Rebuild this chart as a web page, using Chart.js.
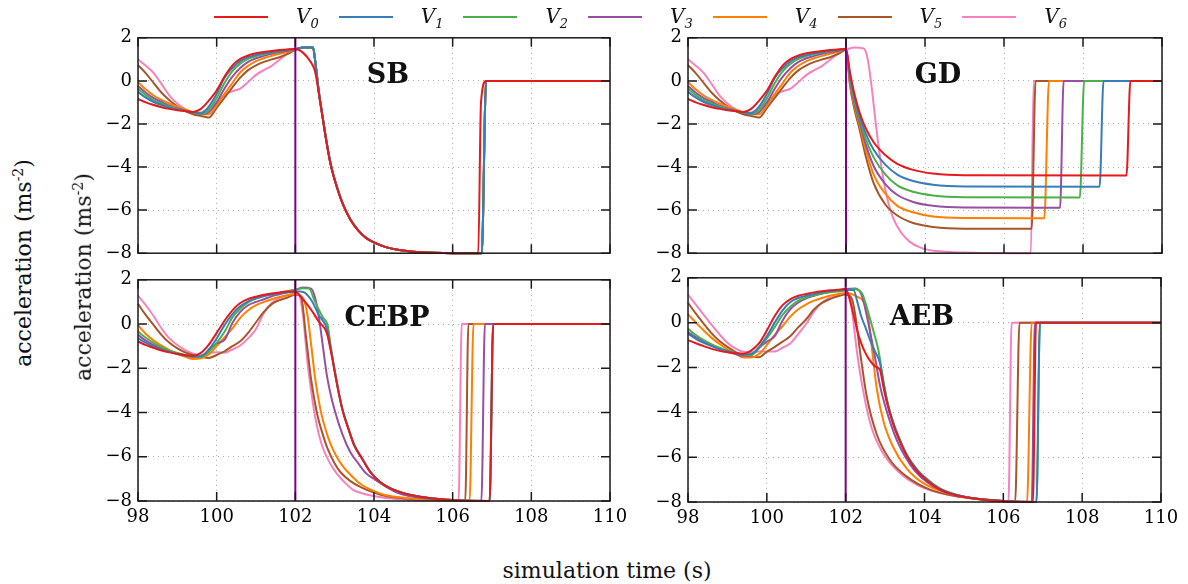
<!DOCTYPE html>
<html lang="en">
<head>
<meta charset="utf-8">
<title>acceleration vs simulation time</title>
<script src="https://cdn.jsdelivr.net/npm/chart.js@4.4.1/dist/chart.umd.min.js"></script>
<style>
  html, body { margin: 0; padding: 0; background: #fff; }
  #figura { position: relative; width: 1188px; height: 584px; overflow: hidden; font-family: 'DejaVu Serif', serif; color: #111; }
  #figura canvas { position: absolute; }
  .titulo { position: absolute; font-weight: bold; font-size: 27px; transform: translate(-50%, -50%); white-space: nowrap; }
  .ejeY { position: absolute; font-size: 22px; white-space: nowrap; transform: translate(-50%, -50%) rotate(-90deg); }
  .ejeY sup { font-size: 14px; }
  .ejeX { position: absolute; font-size: 22px; white-space: nowrap; transform: translate(-50%, -50%); }
  .leyLinea { position: absolute; height: 2px; width: 54px; top: 16px; }
  .leyTexto { position: absolute; top: 17px; transform: translateY(-50%); font-size: 20px; font-style: italic; white-space: nowrap; }
  .leyTexto sub { font-size: 13px; }
</style>
</head>
<body>
<div id="figura">
  <canvas id="panelSB"></canvas>
  <canvas id="panelGD"></canvas>
  <canvas id="panelCEBP"></canvas>
  <canvas id="panelAEB"></canvas>
  <div class="titulo" style="left:388px; top:73px;">SB</div>
  <div class="titulo" style="left:938px; top:73px;">GD</div>
  <div class="titulo" style="left:387px; top:316px;">CEBP</div>
  <div class="titulo" style="left:922px; top:315px;">AEB</div>
  <div class="ejeY" style="left:23px; top:263px;">acceleration (ms<sup>-2</sup>)</div>
  <div class="ejeY" style="left:83px; top:277px;">acceleration (ms<sup>-2</sup>)</div>
  <div class="ejeX" style="left:607px; top:570px;">simulation time (s)</div>
</div>
<script>
// series y colores
const nombres = ['0', '1', '2', '3', '4', '5', '6'];
const colores = ['#e41a1c', '#377eb8', '#4daf4a', '#984ea3', '#ff7f00', '#a65628', '#f781bf'];
const colorEvento = '#7f007f';
const tiempoEvento = 102;

const ticksX = [98, 100, 102, 104, 106, 108, 110];
const ticksY = [-8, -6, -4, -2, 0, 2];

// tramo previo al evento (98 a 102 s)
const tPre = [98.0, 98.2, 98.4, 98.6, 98.8, 99.0, 99.2, 99.4, 99.6, 99.8, 100.0, 100.2, 100.4, 100.6, 100.8, 101.0, 101.2, 101.4, 101.6, 101.8, 102.0];

const preArriba = [
  [-0.84, -1.0, -1.12, -1.22, -1.3, -1.36, -1.4, -1.44, -1.3, -0.92, -0.45, 0.2, 0.72, 1.02, 1.18, 1.28, 1.34, 1.39, 1.43, 1.46, 1.48],
  [-0.51, -0.78, -0.98, -1.12, -1.24, -1.33, -1.4, -1.46, -1.5, -1.2, -0.6, 0.15, 0.6, 0.92, 1.1, 1.2, 1.28, 1.34, 1.4, 1.44, 1.48],
  [-0.36, -0.66, -0.9, -1.05, -1.2, -1.3, -1.4, -1.47, -1.53, -1.35, -0.8, -0.1, 0.45, 0.8, 1.02, 1.15, 1.24, 1.32, 1.38, 1.43, 1.47],
  [-0.24, -0.55, -0.8, -0.98, -1.15, -1.28, -1.38, -1.47, -1.55, -1.45, -1.0, -0.35, 0.2, 0.6, 0.88, 1.05, 1.16, 1.26, 1.34, 1.4, 1.46],
  [-0.06, -0.4, -0.68, -0.88, -1.05, -1.2, -1.33, -1.45, -1.55, -1.55, -1.15, -0.6, -0.1, 0.4, 0.7, 0.92, 1.05, 1.16, 1.26, 1.35, 1.44],
  [0.73, 0.35, -0.1, -0.55, -0.9, -1.18, -1.4, -1.55, -1.63, -1.7, -1.25, -0.78, -0.3, 0.15, 0.5, 0.72, 0.88, 1.0, 1.1, 1.25, 1.44],
  [1.0, 0.7, 0.36, -0.15, -0.68, -1.05, -1.32, -1.48, -1.47, -1.28, -1.02, -0.65, -0.48, -0.36, -0.05, 0.28, 0.5, 0.7, 0.98, 1.25, 1.44]
];

const preCEBP = [
  [-0.79, -0.95, -1.08, -1.2, -1.28, -1.35, -1.4, -1.44, -1.3, -0.93, -0.4, 0.15, 0.62, 0.95, 1.13, 1.24, 1.32, 1.38, 1.43, 1.47, 1.46],
  [-0.64, -0.85, -1.02, -1.15, -1.26, -1.35, -1.42, -1.47, -1.45, -1.15, -0.65, -0.05, 0.45, 0.8, 1.02, 1.17, 1.27, 1.34, 1.39, 1.43, 1.48],
  [-0.34, -0.62, -0.86, -1.05, -1.2, -1.31, -1.4, -1.47, -1.5, -1.25, -0.85, -0.35, 0.3, 0.7, 0.98, 1.15, 1.27, 1.35, 1.42, 1.48, 1.55],
  [-0.49, -0.75, -0.95, -1.1, -1.23, -1.33, -1.42, -1.48, -1.48, -1.2, -0.88, -0.72, 0.05, 0.55, 0.85, 1.0, 1.12, 1.25, 1.35, 1.45, 1.55],
  [-0.05, -0.45, -0.75, -0.98, -1.18, -1.35, -1.48, -1.58, -1.55, -1.38, -1.0, -0.6, -0.2, 0.28, 0.62, 0.85, 1.0, 1.12, 1.22, 1.3, 1.36],
  [0.91, 0.4, -0.05, -0.5, -0.85, -1.1, -1.28, -1.4, -1.48, -1.53, -1.4, -1.23, -1.0, -0.78, -0.4, 0.08, 0.55, 0.9, 1.08, 1.2, 1.33],
  [1.28, 0.85, 0.35, -0.2, -0.65, -0.95, -1.18, -1.34, -1.38, -1.3, -1.28, -1.3, -1.15, -0.97, -0.65, -0.22, 0.5, 0.95, 1.18, 1.3, 1.39]
];

const preAEB = [
  [-0.78, -0.92, -1.05, -1.17, -1.26, -1.32, -1.36, -1.39, -1.25, -0.93, -0.35, 0.3, 0.78, 1.05, 1.2, 1.28, 1.35, 1.4, 1.44, 1.47, 1.5],
  [-0.49, -0.72, -0.9, -1.05, -1.18, -1.28, -1.36, -1.42, -1.4, -1.1, -0.6, 0.0, 0.55, 0.92, 1.1, 1.2, 1.28, 1.35, 1.4, 1.44, 1.47],
  [-0.28, -0.55, -0.78, -0.97, -1.12, -1.25, -1.35, -1.42, -1.45, -1.15, -0.7, -0.2, 0.35, 0.72, 0.98, 1.12, 1.22, 1.3, 1.35, 1.39, 1.43],
  [-0.42, -0.65, -0.85, -1.02, -1.17, -1.3, -1.4, -1.48, -1.45, -1.12, -0.85, -0.6, 0.1, 0.6, 0.9, 1.08, 1.2, 1.3, 1.38, 1.44, 1.5],
  [0.38, 0.0, -0.35, -0.68, -0.95, -1.18, -1.38, -1.55, -1.55, -1.4, -1.0, -0.55, -0.15, 0.28, 0.6, 0.82, 0.98, 1.1, 1.2, 1.27, 1.32],
  [0.88, 0.4, -0.05, -0.48, -0.82, -1.08, -1.3, -1.45, -1.52, -1.54, -1.3, -1.08, -0.85, -0.6, -0.2, 0.15, 0.6, 0.88, 1.05, 1.17, 1.25],
  [1.25, 0.8, 0.35, -0.1, -0.52, -0.9, -1.15, -1.3, -1.32, -1.29, -1.29, -1.29, -1.12, -0.92, -0.5, -0.05, 0.5, 0.9, 1.1, 1.2, 1.3]
];

// tramo posterior al evento: SB
const sbRojoT = [102.2, 102.4, 102.5, 102.6, 102.7, 102.8, 102.9, 103.0, 103.2, 103.4, 103.6, 103.8, 104.0, 104.3, 104.6, 105.0, 105.5, 106.0, 106.65, 106.72, 106.85, 110];
const sbRojoA = [1.3, 0.85, 0.45, -0.6, -1.8, -2.94, -3.9, -4.6, -5.7, -6.45, -6.95, -7.3, -7.5, -7.72, -7.84, -7.93, -7.98, -8, -8, -1.0, 0, 0];
const sbRestoT = [102.2, 102.45, 102.5, 102.6, 102.7, 102.8, 102.9, 103.0, 103.2, 103.4, 103.6, 103.8, 104.0, 104.3, 104.6, 105.0, 105.5, 106.0, 106.74, 106.85, 110];
const sbRestoA = [1.55, 1.55, 1.0, -0.55, -1.75, -2.9, -3.88, -4.58, -5.68, -6.43, -6.94, -7.29, -7.5, -7.72, -7.84, -7.93, -7.98, -8, -8, 0, 0];
const postSBT = [sbRojoT, sbRestoT, sbRestoT, sbRestoT, sbRestoT, sbRestoT, sbRestoT];
const postSBA = [sbRojoA, sbRestoA, sbRestoA, sbRestoA, sbRestoA, sbRestoA, sbRestoA];

// GD
const postGDT = [
  [102.1, 102.2, 102.35, 102.5, 102.7, 103.0, 103.3, 103.7, 104.2, 105.0, 109.1, 109.2, 110],
  [102.1, 102.2, 102.35, 102.5, 102.7, 103.0, 103.3, 103.7, 104.2, 105.0, 108.42, 108.52, 110],
  [102.1, 102.2, 102.35, 102.5, 102.7, 103.0, 103.3, 103.7, 104.2, 105.0, 107.92, 108.03, 110],
  [102.1, 102.2, 102.35, 102.5, 102.7, 103.0, 103.3, 103.7, 104.2, 105.0, 107.42, 107.51, 110],
  [102.1, 102.2, 102.35, 102.5, 102.7, 103.0, 103.3, 103.7, 104.2, 105.0, 107.02, 107.14, 110],
  [102.1, 102.2, 102.35, 102.5, 102.7, 103.0, 103.3, 103.7, 104.2, 105.0, 106.7, 106.8, 110],
  [102.2, 102.45, 102.55, 102.65, 102.75, 102.85, 102.95, 103.05, 103.2, 103.4, 103.6, 103.9, 104.3, 105.0, 106.68, 106.75, 110]
];
const postGDA = [
  [0.4, -0.5, -1.5, -2.2, -2.85, -3.45, -3.85, -4.13, -4.3, -4.38, -4.39, 0, 0],
  [0.25, -0.65, -1.65, -2.45, -3.2, -3.9, -4.35, -4.65, -4.82, -4.9, -4.91, 0, 0],
  [0.1, -0.8, -1.8, -2.7, -3.55, -4.35, -4.85, -5.15, -5.32, -5.4, -5.41, 0, 0],
  [0.0, -0.95, -1.95, -2.95, -3.95, -4.8, -5.3, -5.62, -5.8, -5.88, -5.89, 0, 0],
  [-0.1, -1.05, -2.1, -3.2, -4.35, -5.25, -5.8, -6.1, -6.3, -6.37, -6.38, 0, 0],
  [-0.2, -1.2, -2.3, -3.5, -4.75, -5.75, -6.25, -6.6, -6.78, -6.86, -6.86, 0, 0],
  [1.55, 1.5, 1.0, -0.3, -1.9, -3.4, -4.6, -5.5, -6.4, -7.05, -7.45, -7.75, -7.9, -7.97, -8, 0, 0]
];

// CEBP
const postCEBPT = [
  [102.2, 102.4, 102.6, 102.8, 102.9, 103.0, 103.1, 103.2, 103.35, 103.5, 103.7, 103.9, 104.15, 104.4, 104.7, 105.0, 105.4, 106.0, 106.94, 107.03, 110],
  [102.2, 102.4, 102.6, 102.8, 102.9, 103.0, 103.1, 103.2, 103.35, 103.5, 103.7, 103.9, 104.15, 104.4, 104.7, 105.0, 105.4, 106.0, 106.94, 107.03, 110],
  [102.2, 102.35, 102.5, 102.7, 102.82, 102.9, 103.0, 103.1, 103.2, 103.35, 103.5, 103.7, 103.9, 104.15, 104.4, 104.7, 105.0, 105.4, 106.0, 106.94, 107.03, 110],
  [102.2, 102.4, 102.5, 102.6, 102.7, 102.8, 102.9, 103.0, 103.2, 103.4, 103.6, 103.8, 104.06, 104.3, 104.65, 105.3, 106.0, 106.73, 106.82, 110],
  [102.2, 102.3, 102.4, 102.5, 102.65, 102.8, 102.9, 103.05, 103.23, 103.45, 103.65, 104.0, 104.31, 104.8, 105.5, 106.43, 106.53, 110],
  [102.15, 102.27, 102.4, 102.56, 102.7, 102.81, 103.0, 103.15, 103.4, 103.65, 104.0, 104.3, 104.9, 105.5, 106.32, 106.4, 110],
  [102.1, 102.2, 102.31, 102.4, 102.48, 102.6, 102.73, 102.9, 103.06, 103.25, 103.48, 103.75, 104.06, 104.5, 104.9, 105.5, 106.15, 106.23, 110]
];
const postCEBPA = [
  [1.1, 0.65, 0.1, -0.4, -1.2, -2.15, -3.1, -3.9, -4.75, -5.5, -6.1, -6.68, -7.14, -7.42, -7.62, -7.75, -7.86, -7.96, -8, 0, 0],
  [1.45, 1.1, 0.4, -0.2, -1.1, -2.1, -3.05, -3.88, -4.72, -5.48, -6.08, -6.66, -7.13, -7.41, -7.61, -7.75, -7.86, -7.96, -8, 0, 0],
  [1.62, 1.6, 1.0, 0.3, -0.05, -1.0, -2.1, -3.05, -3.88, -4.72, -5.48, -6.08, -6.66, -7.13, -7.41, -7.61, -7.75, -7.86, -7.96, -8, 0, 0],
  [1.65, 1.6, 1.2, 0.3, -1.0, -2.3, -3.2, -3.9, -5.0, -5.8, -6.3, -6.75, -7.07, -7.35, -7.66, -7.88, -7.97, -8, 0, 0],
  [1.15, 0.5, -0.9, -2.4, -3.96, -4.95, -5.44, -6.0, -6.48, -6.9, -7.22, -7.55, -7.74, -7.86, -7.95, -8, 0, 0],
  [1.21, -0.56, -2.49, -4.11, -5.0, -5.59, -6.3, -6.7, -7.1, -7.36, -7.62, -7.78, -7.9, -7.96, -8, 0, 0],
  [1.3, 0.3, -1.75, -3.0, -3.96, -5.0, -5.74, -6.35, -6.77, -7.15, -7.51, -7.68, -7.8, -7.9, -7.95, -7.98, -8, 0, 0]
];

// AEB
const postAEBT = [
  [102.1, 102.2, 102.3, 102.4, 102.5, 102.6, 102.75, 102.87, 102.95, 103.05, 103.2, 103.35, 103.55, 103.8, 104.1, 104.4, 104.8, 105.4, 106.0, 106.75, 106.83, 110],
  [102.2, 102.3, 102.4, 102.5, 102.62, 102.75, 102.87, 102.95, 103.05, 103.2, 103.35, 103.55, 103.8, 104.1, 104.4, 104.8, 105.4, 106.0, 106.84, 106.93, 110],
  [102.2, 102.41, 102.55, 102.7, 102.83, 102.92, 103.05, 103.2, 103.35, 103.55, 103.8, 104.1, 104.4, 104.8, 105.4, 106.0, 106.84, 106.93, 110],
  [102.25, 102.4, 102.5, 102.62, 102.75, 102.87, 103.0, 103.15, 103.3, 103.5, 103.75, 104.05, 104.4, 104.8, 105.4, 106.0, 106.72, 106.8, 110],
  [102.1, 102.3, 102.45, 102.55, 102.66, 102.79, 102.96, 103.21, 103.55, 103.97, 104.56, 105.2, 106.0, 106.6, 106.72, 110],
  [102.15, 102.24, 102.37, 102.53, 102.79, 103.13, 103.55, 104.14, 104.9, 105.7, 106.3, 106.41, 110],
  [102.08, 102.15, 102.28, 102.45, 102.66, 102.96, 103.38, 103.89, 104.56, 105.4, 106.13, 106.21, 110]
];
const postAEBA = [
  [1.05, 0.35, -0.4, -0.95, -1.35, -1.65, -1.95, -2.1, -2.8, -3.6, -4.5, -5.2, -5.95, -6.6, -7.1, -7.45, -7.7, -7.88, -7.96, -8, 0, 0],
  [1.46, 0.9, 0.25, -0.2, -0.78, -1.3, -1.8, -2.6, -3.5, -4.45, -5.15, -5.9, -6.55, -7.05, -7.42, -7.68, -7.87, -7.96, -8, 0, 0],
  [1.5, 1.32, 0.6, -0.35, -1.22, -2.2, -3.45, -4.4, -5.1, -5.88, -6.52, -7.03, -7.4, -7.67, -7.87, -7.96, -8, 0, 0],
  [1.52, 1.25, 0.6, -0.4, -1.6, -2.8, -3.7, -4.55, -5.25, -5.95, -6.6, -7.1, -7.47, -7.7, -7.88, -7.96, -8, 0, 0],
  [1.3, 1.15, 0.96, 0.5, -1.07, -2.96, -4.41, -5.57, -6.51, -7.16, -7.59, -7.84, -7.95, -8, 0, 0],
  [1.1, 0.38, -1.36, -3.25, -4.99, -6.14, -6.87, -7.45, -7.77, -7.91, -8, 0, 0],
  [1.25, 0.67, -1.22, -3.1, -4.7, -5.86, -6.72, -7.3, -7.67, -7.88, -8, 0, 0]
];

// Leyenda común (HTML, arriba de la figura)
const figura = document.getElementById('figura');
nombres.forEach((n, i) => {
  const linea = document.createElement('div');
  linea.className = 'leyLinea';
  linea.style.left = (214 + 124.7 * i) + 'px';
  linea.style.background = colores[i];
  figura.appendChild(linea);
  const texto = document.createElement('div');
  texto.className = 'leyTexto';
  texto.style.left = (296 + 124.7 * i) + 'px';
  texto.innerHTML = 'V<sub>' + n + '</sub>';
  figura.appendChild(texto);
});

// Marco y marcas hacia dentro, como en el original
const marcoInterior = {
  id: 'marcoInterior',
  afterDatasetsDraw(chart) {
    const { ctx, chartArea: a, scales: { x, y } } = chart;
    const largo = 9;
    ctx.save();
    ctx.strokeStyle = '#1a1a1a';
    ctx.lineWidth = 1.5;
    ctx.beginPath();
    ticksX.forEach(v => {
      const px = x.getPixelForValue(v);
      ctx.moveTo(px, a.bottom); ctx.lineTo(px, a.bottom - largo);
      ctx.moveTo(px, a.top); ctx.lineTo(px, a.top + largo);
    });
    ticksY.forEach(v => {
      const py = y.getPixelForValue(v);
      ctx.moveTo(a.left, py); ctx.lineTo(a.left + largo, py);
      ctx.moveTo(a.right, py); ctx.lineTo(a.right - largo, py);
    });
    ctx.stroke();
    ctx.strokeRect(a.left, a.top, a.right - a.left, a.bottom - a.top);
    ctx.restore();
  }
};

const fuenteTicks = { family: 'DejaVu Serif', size: 18, weight: 'normal' };
Chart.defaults.font.family = 'DejaVu Serif';
Chart.defaults.font.size = 18;
Chart.defaults.color = '#000';

function armarDatos(pre, postT, postA, i) {
  const puntos = tPre.map((t, j) => ({ x: t, y: pre[i][j] }));
  postT[i].forEach((t, j) => puntos.push({ x: t, y: postA[i][j] }));
  return puntos;
}

function crearPanel(id, area, pre, postT, postA, conEtiquetasX) {
  const margenIzq = 50, margenSup = 12, margenDer = 24;
  const altoX = conEtiquetasX ? 32 : 14;
  const lienzo = document.getElementById(id);
  const ancho = (area.der - area.izq) + margenIzq + margenDer;
  const alto = (area.inf - area.sup) + margenSup + altoX;
  lienzo.width = ancho;
  lienzo.height = alto;
  lienzo.style.left = (area.izq - margenIzq) + 'px';
  lienzo.style.top = (area.sup - margenSup) + 'px';

  const conjuntos = [{
    label: 'evento',
    data: [{ x: tiempoEvento, y: -8 }, { x: tiempoEvento, y: 2 }],
    borderColor: colorEvento,
    borderWidth: 2
  }];
  nombres.forEach((n, i) => {
    conjuntos.push({
      label: 'V' + n,
      data: armarDatos(pre, postT, postA, i),
      borderColor: colores[i],
      borderWidth: 2,
      cubicInterpolationMode: 'monotone'
    });
  });

  return new Chart(lienzo.getContext('2d'), {
    type: 'line',
    data: { datasets: conjuntos },
    options: {
      responsive: false,
      animation: false,
      devicePixelRatio: 1,
      layout: { padding: { left: 0, top: margenSup, right: margenDer, bottom: 0 } },
      elements: { point: { radius: 0 }, line: { borderJoinStyle: 'round' } },
      datasets: { line: { clip: false } },
      plugins: { legend: { display: false }, tooltip: { enabled: false } },
      scales: {
        x: {
          type: 'linear',
          min: 98,
          max: 110,
          afterBuildTicks: s => { s.ticks = ticksX.map(v => ({ value: v })); },
          afterFit: s => { s.height = altoX; },
          ticks: { display: conEtiquetasX, padding: 6, maxRotation: 0, autoSkip: false, font: fuenteTicks, color: '#000' },
          grid: { color: '#a8a8a8', lineWidth: 1, drawTicks: false },
          border: { display: false, dash: [1, 4] }
        },
        y: {
          min: -8,
          max: 2,
          afterBuildTicks: s => { s.ticks = ticksY.map(v => ({ value: v })); },
          afterFit: s => { s.width = margenIzq; },
          ticks: {
            padding: 6,
            font: fuenteTicks,
            color: '#000',
            callback: v => (v < 0 ? '\u2212' + Math.abs(v) : String(v))
          },
          grid: { color: '#a8a8a8', lineWidth: 1, drawTicks: false },
          border: { display: false, dash: [1, 4] }
        }
      }
    },
    plugins: [marcoInterior]
  });
}

crearPanel('panelSB', { izq: 138, der: 610, sup: 33, inf: 256 }, preArriba, postSBT, postSBA, false);
crearPanel('panelGD', { izq: 688, der: 1162, sup: 33, inf: 256 }, preArriba, postGDT, postGDA, false);
crearPanel('panelCEBP', { izq: 138, der: 610, sup: 275, inf: 501 }, preCEBP, postCEBPT, postCEBPA, true);
crearPanel('panelAEB', { izq: 688, der: 1161, sup: 273, inf: 502 }, preAEB, postAEBT, postAEBA, true);
</script>
</body>
</html>
